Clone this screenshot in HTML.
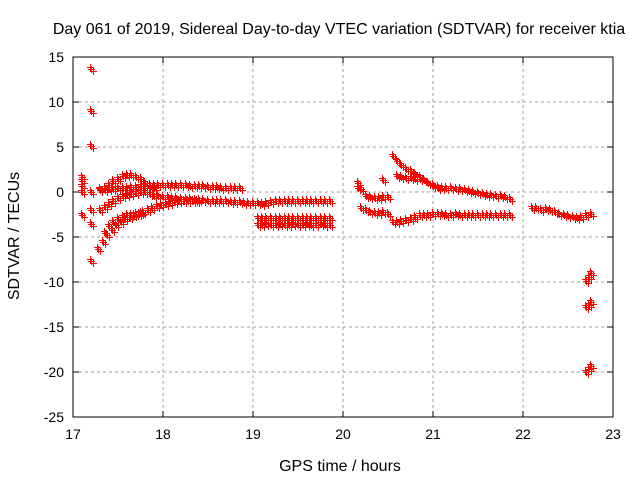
<!DOCTYPE html>
<html><head><meta charset="utf-8"><style>
body{margin:0;background:#fff}
svg{display:block;font-family:"Liberation Sans",sans-serif}
</style></head><body>
<svg id="chart" width="640" height="480" viewBox="0 0 640 480">
<rect width="640" height="480" fill="#fff"/>
<text x="339" y="34" font-size="16" text-anchor="middle">Day 061 of 2019, Sidereal Day-to-day VTEC variation (SDTVAR) for receiver ktia</text>
<text transform="translate(19,236) rotate(-90)" font-size="16" text-anchor="middle">SDTVAR / TECUs</text>
<text x="340" y="471" font-size="16" text-anchor="middle">GPS time / hours</text>
<g id="grid"></g><g id="axes"></g><g id="marks"></g>
<rect x="73" y="57" width="540" height="360" fill="none" stroke="#000" stroke-width="1"/>
</svg>
<script>
const xTicks=[17,18,19,20,21,22,23];
const yTicks=[15,10,5,0,-5,-10,-15,-20,-25];
const tA1=[17.30,17.35,17.40,17.45,17.50,17.55,17.60,17.65,17.70,17.75,17.80,17.85,17.90];
const vA1=[0.2,0.4,0.8,1.2,1.5,1.8,1.9,1.9,1.7,1.4,1.0,0.6,0.4];
const tA2=[17.30,17.35,17.40,17.45,17.50,17.55,17.60,17.65,17.70,17.75,17.80,17.85,17.90,17.95,18.00,18.05,18.10,18.15,18.20,18.25,18.30,18.35,18.40,18.45,18.50,18.55,18.60,18.65,18.70,18.75,18.80,18.85];
const vA2=[0.3,0.2,0.3,0.3,0.4,0.5,0.5,0.6,0.6,0.7,0.7,0.8,0.8,0.8,0.8,0.8,0.8,0.8,0.8,0.8,0.7,0.7,0.7,0.7,0.6,0.6,0.6,0.5,0.5,0.5,0.4,0.4];
const tB=[17.30,17.35,17.40,17.45,17.50,17.55,17.60,17.65,17.70,17.75,17.80,17.85,17.90,17.95,18.00,18.05,18.10,18.15,18.20,18.25,18.30,18.35,18.40,18.45,18.50,18.55,18.60,18.65,18.70,18.75,18.80,18.85,18.90,18.95,19.00,19.05,19.10,19.15,19.20,19.25,19.30,19.35,19.40,19.45,19.50,19.55,19.60,19.65,19.70,19.75,19.80,19.85];
const vB=[-2,-1.7,-1.3,-1,-0.7,-0.5,-0.3,-0.2,-0.1,0,0,-0.2,-0.4,-0.5,-0.6,-0.6,-0.7,-0.7,-0.8,-0.8,-0.8,-0.9,-0.9,-0.9,-1.0,-1.0,-1.0,-1.0,-1.0,-1.1,-1.1,-1.1,-1.2,-1.2,-1.2,-1.2,-1.3,-1.2,-1.1,-1.0,-1.0,-1.0,-1.0,-1.0,-1.0,-1.0,-1.0,-1.0,-1.0,-1.0,-1.0,-1.0];
const tC=[17.28,17.33,17.38,17.43,17.48,17.53,17.58,17.63,17.68,17.73,17.78,17.83,17.88,17.93,17.98,18.03,18.08,18.13,18.18,18.23,18.28,18.33,18.38];
const vC=[-6.3,-5.5,-4.8,-4.2,-3.7,-3.3,-3.0,-2.8,-2.6,-2.4,-2.2,-2.0,-1.8,-1.6,-1.4,-1.3,-1.2,-1.1,-1.0,-1.0,-1.0,-1.0,-1.0];
const tC2=[17.35,17.40,17.45,17.50,17.55,17.60,17.65,17.70,17.75];
const vC2=[-4.5,-3.8,-3.3,-3.0,-2.8,-2.6,-2.5,-2.4,-2.3];
const tD=[19.05,19.10,19.15,19.20,19.25,19.30,19.35,19.40,19.45,19.50,19.55,19.60,19.65,19.70,19.75,19.80,19.85];
const vD1=[-2.9,-2.9,-2.9,-2.9,-2.9,-2.9,-2.9,-2.9,-2.9,-2.9,-2.9,-2.9,-2.9,-2.9,-2.9,-2.9,-2.9];
const vD2=[-3.7,-3.7,-3.6,-3.7,-3.7,-3.6,-3.7,-3.7,-3.6,-3.7,-3.7,-3.6,-3.7,-3.7,-3.6,-3.7,-3.7];
const tS=[20.20,20.25,20.30,20.35,20.40,20.45,20.50];
const vS1=[0.3,-0.5,-0.6,-0.7,-0.7,-0.6,-0.6];
const vS2=[-1.8,-2.0,-2.2,-2.3,-2.3,-2.2,-2.4];
const tE=[20.55,20.60,20.65,20.70,20.75,20.80,20.85,20.90,20.95,21.00,21.05,21.10,21.15,21.20,21.25,21.30,21.35,21.40,21.45,21.50,21.55,21.60,21.65,21.70,21.75,21.80,21.85];
const vE=[4.0,3.5,3.0,2.6,2.3,2.0,1.7,1.3,1.0,0.8,0.6,0.5,0.5,0.4,0.3,0.3,0.2,0.1,0.0,-0.1,-0.2,-0.3,-0.3,-0.4,-0.5,-0.6,-0.8];
const tF=[20.60,20.65,20.70,20.75,20.80,20.85,20.90,20.95,21.00,21.05,21.10,21.15,21.20];
const vF=[1.8,1.7,1.6,1.6,1.5,1.5,1.3,1.0,0.7,0.5,0.4,0.4,0.4];
const vG=[-3.3,-3.3,-3.2,-3.1,-3.0,-2.8,-2.6,-2.5,-2.5,-2.4,-2.4,-2.4,-2.5,-2.5,-2.4,-2.5,-2.5,-2.5,-2.5,-2.5,-2.5,-2.5,-2.5,-2.5,-2.6,-2.6,-2.6];
const tH=[22.10,22.15,22.20,22.25,22.30,22.35,22.40,22.45,22.50,22.55,22.60,22.65,22.70,22.75];
const vH=[-1.8,-1.8,-2.0,-1.9,-2.0,-2.2,-2.4,-2.6,-2.7,-2.8,-2.9,-2.8,-2.6,-2.4];
const tEnd=[22.70,22.73,22.76];
const vEnd1=[-9.9,-9.4,-9.0];
const vEnd2=[-12.8,-12.6,-12.2];
const vEnd3=[-20.0,-19.7,-19.3];
const tSingles=[17.10,17.10,17.10,17.10,17.10,17.20,17.20,17.20,17.20,17.20,17.20,17.20,20.17,20.17,20.45];
const vSingles=[0,0.7,1.2,1.7,-2.5,13.7,9,5.1,-2,-3.6,-7.7,0,1.0,0.5,1.3];

const X0=73,X1=613,Y0=417,Y1=57;
const xs=t=>X0+(t-17)/6*(X1-X0);
const ys=v=>Y0-(v+25)/40*(Y0-Y1);
const NS='http://www.w3.org/2000/svg';
const grid=document.getElementById('grid'),axes=document.getElementById('axes'),marks=document.getElementById('marks');
function mk(tag,at,parent){const e=document.createElementNS(NS,tag);for(const k in at)e.setAttribute(k,at[k]);parent.appendChild(e);return e;}
xTicks.forEach(t=>{const x=xs(t);
 if(t>17&&t<23){const g=mk('line',{x1:x,x2:x,y1:Y1,y2:Y0,stroke:'#a0a0a0','stroke-dasharray':'3,3'},grid);
 
 }
 mk('line',{x1:x,x2:x,y1:Y0,y2:Y0-6,stroke:'#000'},axes);mk('line',{x1:x,x2:x,y1:Y1,y2:Y1+6,stroke:'#000'},axes);
 const l=mk('text',{x:x,y:Y0+22,'font-size':14,'text-anchor':'middle'},axes);l.textContent=t;
 
 });
yTicks.forEach(v=>{const y=ys(v);
 if(v<15&&v>-25){const g=mk('line',{x1:X0,x2:X1,y1:y,y2:y,stroke:'#a0a0a0','stroke-dasharray':'3,3'},grid);
 
 }
 mk('line',{x1:X0,x2:X0+6,y1:y,y2:y,stroke:'#000'},axes);mk('line',{x1:X1,x2:X1-6,y1:y,y2:y,stroke:'#000'},axes);
 const l=mk('text',{x:X0-9,y:y+5,'font-size':14,'text-anchor':'end'},axes);l.textContent=v;
 
 });
const offs=[[0,0],[2,2],[-1,-2]];
function series(name,ts,vs){const g=mk('g',{fill:'#ff0000'},marks);
 
 
 ts.forEach((t,i)=>{const x=Math.round(xs(t)),y=Math.round(ys(vs[i]));
  offs.forEach(([dx,dy])=>{
   mk('rect',{x:x+dx-3,y:y+dy,width:7,height:1},g);
   mk('rect',{x:x+dx,y:y+dy-3,width:1,height:7},g);});});}
series('series-a1',tA1,vA1);series('series-a2',tA2,vA2);series('series-b',tB,vB);
series('series-c',tC,vC);series('series-c2',tC2,vC2);series('series-d1',tD,vD1);series('series-d2',tD,vD2);
series('series-s1',tS,vS1);series('series-s2',tS,vS2);series('series-e',tE,vE);series('series-f',tF,vF);
series('series-g',tE,vG);series('series-h',tH,vH);series('series-end1',tEnd,vEnd1);series('series-end2',tEnd,vEnd2);
series('series-end3',tEnd,vEnd3);series('series-singles',tSingles,vSingles);
</script>
</body></html>
